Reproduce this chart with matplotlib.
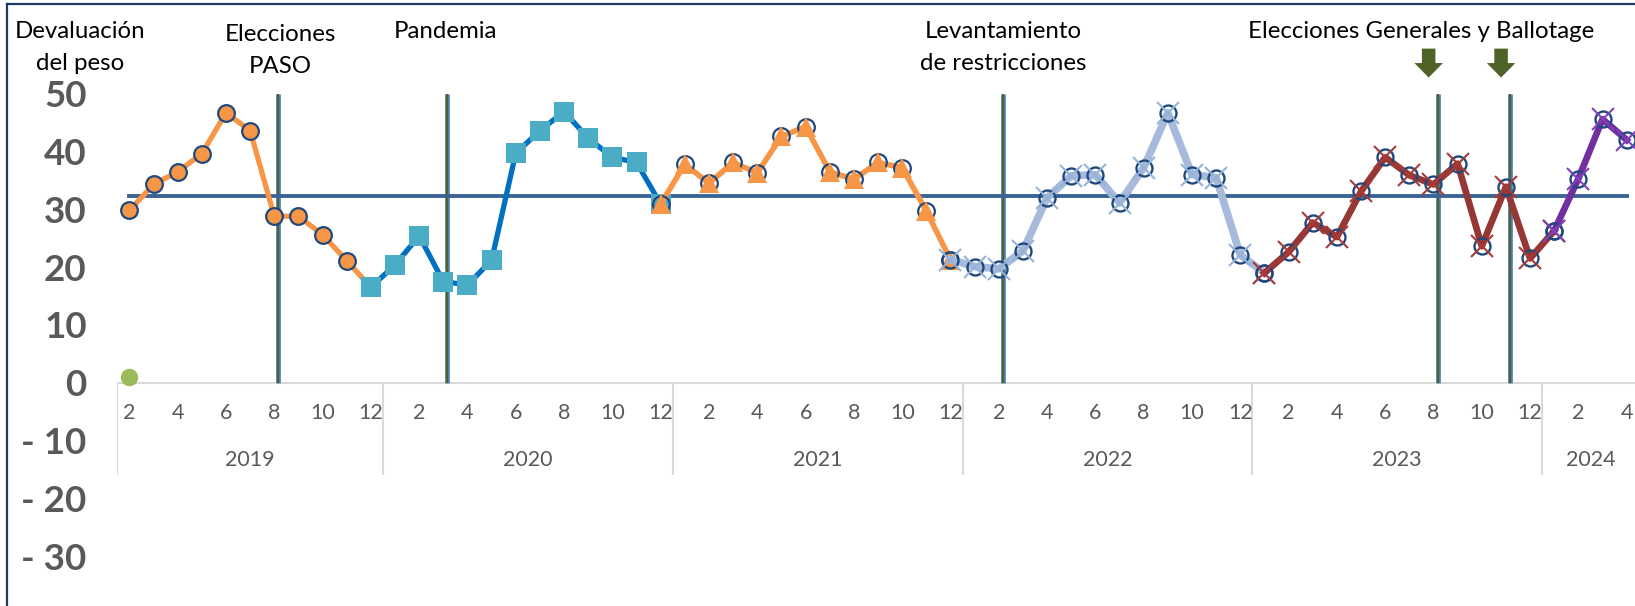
import matplotlib
matplotlib.use("Agg")
import matplotlib.pyplot as plt
from matplotlib.patches import FancyArrow
from matplotlib.lines import Line2D

plt.rcParams['font.family'] = ['Lato', 'DejaVu Sans']

# ---------------- data ----------------
years = [2019, 2020, 2021, 2022, 2023, 2024]
first_month = [2, 1, 1, 1, 1, 1]
last_month = [12, 12, 12, 12, 12, 4]

# series values (index 0 = Feb 2019)
s2019_start = 0
s2019 = [29.8, 34.3, 36.5, 39.6, 46.7, 43.6, 28.8, 28.8, 25.6, 21.1, 16.5]
s2020_start = 10
s2020 = [16.5, 20.4, 25.4, 17.5, 16.9, 21.2, 39.7, 43.6, 46.9, 42.3, 39.0, 38.1, 30.9]
s2021_start = 22
s2021 = [30.9, 37.8, 34.5, 38.1, 36.3, 42.6, 44.3, 36.5, 35.2, 38.1, 37.2, 29.7, 21.3]
s2022_start = 34
s2022 = [21.3, 20.1, 19.7, 22.8, 32.0, 35.8, 36.0, 31.1, 37.2, 46.7, 36.0, 35.5, 22.1, 19.0]
s2023_start = 47
s2023 = [19.0, 22.6, 27.7, 25.2, 33.1, 39.0, 35.9, 34.3, 37.9, 23.6, 33.9, 21.5, 26.3]
s2024_start = 59
s2024 = [26.3, 35.3, 45.6, 42.0]

average_value = 32.3
devaluation_point = [1.0]

event_index = [6, 13, 36, 54, 57]       # Aug-19, Mar-20, Feb-22, Aug-23, Nov-23
event_top = 50
arrow_events = [54, 57]

annotations = [
    ("Devaluación\ndel peso", -2.04, 60.8),
    ("Elecciones\nPASO", 6.24, 60.2),
    ("Pandemia", 13.1, 60.8),
    ("Levantamiento\nde restricciones", 36.18, 60.8),
    ("Elecciones Generales y Ballotage", 53.48, 60.8),
]

y_ticks = [-30, -20, -10, 0, 10, 20, 30, 40, 50]
y_tick_labels = ["- 30", "- 20", "- 10", "0", "10", "20", "30", "40", "50"]

# ---------------- categories ----------------
cat_year = []
cat_month = []
for y, a, b in zip(years, first_month, last_month):
    for m in range(a, b + 1):
        cat_year.append(y)
        cat_month.append(m)
n_cat = len(cat_month)

# ---------------- figure ----------------
W, H = 1635, 606
fig = plt.figure(figsize=(W / 100, H / 100), dpi=100)
px_axis_left = 117.3
px_per_month = 24.15
px_zero = 382.7
px_per_unit = 5.78
L = px_axis_left / W
ax = fig.add_axes([L, 0, 1 - L, 1])
ax.set_xlim(-0.5, -0.5 + (W - px_axis_left) / px_per_month)
ax.set_ylim(-(H - px_zero) / px_per_unit, px_zero / px_per_unit)
for s in ax.spines.values():
    s.set_visible(False)
ax.set_xticks([])
ax.set_yticks(y_ticks)
ax.set_yticklabels(y_tick_labels, fontsize=26.5, fontweight='bold', color='#595959')
ax.tick_params(axis='y', length=0, pad=22)

# category axis
ax.axhline(0, color='#D9D9D9', lw=1.5, zorder=1)
bounds = [-0.5]
c = -0.5
for y, a, b in zip(years, first_month, last_month):
    c += (b - a + 1)
    bounds.append(c)
y_sep_bottom = -(475 - px_zero) / px_per_unit
ax.vlines(bounds, y_sep_bottom, 0, color='#D9D9D9', lw=1.5, zorder=1)
y_month_lbl = -(413.3 - px_zero) / px_per_unit
y_year_lbl = -(460 - px_zero) / px_per_unit
for i, m in enumerate(cat_month):
    if m % 2 == 0:
        ax.text(i, y_month_lbl, str(m), ha='center', va='center', fontsize=15.5, color='#595959')
for k, y in enumerate(years):
    ax.text((bounds[k] + bounds[k + 1]) / 2, y_year_lbl, str(y), ha='center', va='center',
            fontsize=15.5, color='#595959')

# event lines
ev_x = [e + 0.17 for e in event_index]
ax.vlines(ev_x, 0, event_top, color='#4F81BD', lw=3.4, zorder=2)
ax.vlines(ev_x, 0, event_top, color='#4F6228', lw=1.6, zorder=2.1)

# average line
all_idx = list(range(n_cat))
ax.plot(all_idx, [average_value] * n_cat, color='#3B6496', lw=2.8, zorder=3)

navy = '#1F497D'

def xs(start, vals):
    return list(range(start, start + len(vals)))

# 2019
ax.plot(xs(s2019_start, s2019), s2019, color='#F79646', lw=3.8, marker='o', ms=12,
        mfc='#F79646', mec=navy, mew=1.6, zorder=4)
# 2020
ax.plot(xs(s2020_start, s2020), s2020, color='#0070C0', lw=3.8, marker='s', ms=14.5,
        mfc='#4BACC6', mec='#4BACC6', mew=0, zorder=5)
# 2021
x21 = xs(s2021_start, s2021)
ax.plot(x21, s2021, color='#F79646', lw=4.0, zorder=6)
ax.plot(x21, s2021, ls='none', marker='o', ms=12, mfc='none', mec=navy, mew=1.6, zorder=6.1)
ax.plot(x21, s2021, ls='none', marker='^', ms=15, mfc='#F79646', mec='#F79646', mew=0, zorder=6.2)

def ring_x(start, vals, lc, xc, lw, z):
    xx = xs(start, vals)
    ax.plot(xx, vals, color=lc, lw=lw, zorder=z)
    ax.plot(xx, vals, ls='none', marker='o', ms=11.5, mfc='none', mec=navy, mew=1.7, zorder=z + 0.1)
    ax.plot(xx, vals, ls='none', marker='x', ms=16, mec=xc, mew=1.5, zorder=z + 0.2)

ring_x(s2022_start, s2022, '#A7BADB', '#95B3D7', 5.5, 7)
ring_x(s2023_start, s2023, '#953735', '#A83A37', 4.8, 8)
ring_x(s2024_start, s2024, '#7030A0', '#8040B8', 4.8, 9)

# devaluation marker
ax.plot([0], devaluation_point, ls='none', marker='o', ms=11.5, color='#9BBB59', zorder=10)

# annotations
line_gap = 32 / px_per_unit
for txt, x, y in annotations:
    for k, line in enumerate(txt.split('\n')):
        ax.text(x, y - k * line_gap, line, ha='center', va='center', fontsize=17.3,
                color='black', clip_on=False)

# arrows
for e in arrow_events:
    ax.add_patch(FancyArrow(e - 0.2, 57.8, 0, -5.0, width=0.56, head_width=1.18,
                            head_length=2.5, length_includes_head=True,
                            color='#4F6228', lw=0, zorder=10))

# outer border (left & top)
bc = '#1F3864'
fig.add_artist(Line2D([7 / W, 7 / W], [0, 1 - 4 / H], color=bc, lw=1.6))
fig.add_artist(Line2D([7 / W, 1], [1 - 4 / H, 1 - 4 / H], color=bc, lw=1.6))

fig.savefig('out.png', dpi=100)
